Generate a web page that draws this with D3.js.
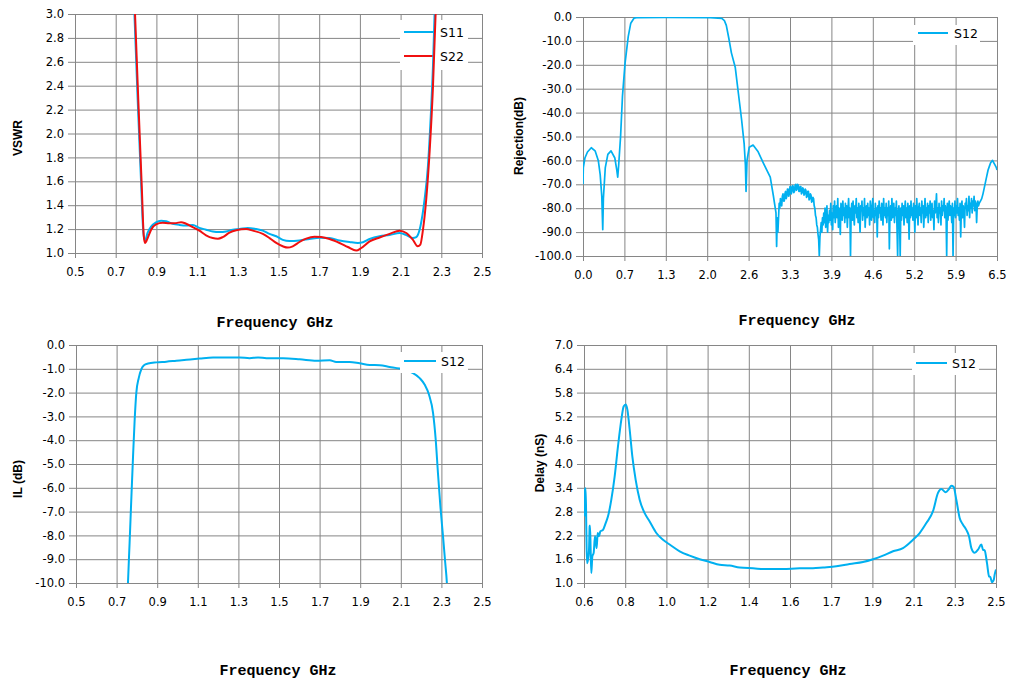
<!DOCTYPE html>
<html>
<head>
<meta charset="utf-8">
<script src="https://cdnjs.cloudflare.com/ajax/libs/d3/7.8.5/d3.min.js"></script>
<style>
  body { margin: 0; background: #fff; }
  svg { display: block; }
  .tick text { font-family: 'DejaVu Sans', sans-serif; font-size: 11.5px; fill: #000; }
  .tick line { stroke: #868686; stroke-width: 1px; }
  .ytitle { font-family: 'Liberation Sans', Arial, sans-serif; font-weight: bold; font-size: 12px; }
  .xtitle { font-family: 'Liberation Mono', monospace; font-weight: bold; font-size: 15px; }
  .legtext { font-family: 'DejaVu Sans', sans-serif; font-size: 12.5px; }
</style>
</head>
<body>
<svg id="chart" width="1020" height="697"></svg>
<script>

const BLUE = '#00b0f0';
const RED = '#f01010';

// ---- VSWR panel ----
const vswrXTicks = [0.5, 0.7, 0.9, 1.1, 1.3, 1.5, 1.7, 1.9, 2.1, 2.3, 2.5];
const vswrXLabels = ['0.5', '0.7', '0.9', '1.1', '1.3', '1.5', '1.7', '1.9', '2.1', '2.3', '2.5'];
const vswrYTicks = [1.0, 1.2, 1.4, 1.6, 1.8, 2.0, 2.2, 2.4, 2.6, 2.8, 3.0];
const vswrYLabels = ['1.0', '1.2', '1.4', '1.6', '1.8', '2.0', '2.2', '2.4', '2.6', '2.8', '3.0'];
const vswrS11 = [
  [0.780, 3.6], [0.792, 3.0], [0.808, 2.28], [0.825, 1.58], [0.836, 1.17], [0.844, 1.105],
  [0.857, 1.17], [0.874, 1.22], [0.898, 1.256], [0.923, 1.27], [0.948, 1.265], [0.980, 1.245],
  [1.013, 1.235], [1.046, 1.23], [1.079, 1.235], [1.111, 1.21], [1.144, 1.195], [1.177, 1.18],
  [1.210, 1.175], [1.243, 1.18], [1.275, 1.195], [1.308, 1.2], [1.349, 1.21], [1.390, 1.2],
  [1.423, 1.187], [1.456, 1.16], [1.489, 1.14], [1.521, 1.11], [1.554, 1.1], [1.603, 1.105],
  [1.652, 1.117], [1.702, 1.128], [1.751, 1.125], [1.800, 1.105], [1.849, 1.092], [1.890, 1.084],
  [1.915, 1.09], [1.948, 1.117], [1.997, 1.14], [2.046, 1.15], [2.095, 1.167], [2.128, 1.15],
  [2.160, 1.125], [2.177, 1.133], [2.197, 1.22], [2.218, 1.45], [2.234, 1.72], [2.248, 2.14],
  [2.259, 2.56], [2.267, 3.0], [2.275, 3.5]
];
const vswrS22 = [
  [0.783, 3.6], [0.795, 3.0], [0.811, 2.28], [0.828, 1.56], [0.838, 1.14], [0.844, 1.084],
  [0.857, 1.125], [0.874, 1.195], [0.898, 1.24], [0.931, 1.253], [0.964, 1.248], [0.997, 1.25],
  [1.021, 1.258], [1.046, 1.245], [1.079, 1.217], [1.111, 1.187], [1.144, 1.148], [1.177, 1.125],
  [1.202, 1.12], [1.226, 1.133], [1.259, 1.17], [1.292, 1.19], [1.341, 1.2], [1.374, 1.187],
  [1.423, 1.16], [1.456, 1.125], [1.489, 1.084], [1.521, 1.056], [1.546, 1.045], [1.570, 1.056],
  [1.603, 1.092], [1.636, 1.12], [1.677, 1.136], [1.710, 1.133], [1.751, 1.117], [1.800, 1.084],
  [1.841, 1.05], [1.882, 1.02], [1.907, 1.042], [1.948, 1.097], [1.997, 1.13], [2.046, 1.16],
  [2.095, 1.187], [2.128, 1.167], [2.160, 1.111], [2.184, 1.056], [2.197, 1.07], [2.210, 1.195],
  [2.226, 1.45], [2.243, 1.86], [2.259, 2.39], [2.272, 3.0], [2.280, 3.5]
];

// ---- Rejection panel ----
const rejXTicks = [0, 0.65, 1.3, 1.95, 2.6, 3.25, 3.9, 4.55, 5.2, 5.85, 6.5];
const rejXLabels = ['0.0', '0.7', '1.3', '2.0', '2.6', '3.3', '3.9', '4.6', '5.2', '5.9', '6.5'];
const rejYTicks = [-100, -90, -80, -70, -60, -50, -40, -30, -20, -10, 0];
const rejYLabels = ['-100.0', '-90.0', '-80.0', '-70.0', '-60.0', '-50.0', '-40.0', '-30.0', '-20.0', '-10.0', '0.0'];
// passband and skirts
const rejMain = [
  [0.000, -70], [0.005, -63], [0.03, -59], [0.07, -56.5], [0.13, -54.7], [0.19, -56], [0.24, -60],
  [0.27, -66], [0.295, -75], [0.31, -89], [0.32, -76], [0.35, -63], [0.39, -57.5], [0.44, -56],
  [0.50, -59], [0.53, -64], [0.545, -67], [0.56, -62], [0.59, -50], [0.62, -33], [0.66, -19.4],
  [0.71, -8.2], [0.75, -2.6], [0.80, -0.5], [0.84, -0.3], [1.30, -0.2], [2.00, -0.3], [2.18, -0.6],
  [2.22, -1.5], [2.25, -3.5], [2.29, -9], [2.33, -15], [2.39, -21], [2.44, -32], [2.49, -43],
  [2.53, -53], [2.55, -62], [2.56, -73], [2.575, -60], [2.61, -54.5], [2.67, -53.6], [2.75, -56.4],
  [2.83, -61], [2.94, -67], [2.99, -75], [3.03, -82], [3.04, -96], [3.05, -84], [3.06, -90],
  [3.08, -78], [3.09, -80], [3.10, -76], [3.11, -78], [3.12, -79], [3.13, -75], [3.14, -74],
  [3.15, -77], [3.16, -77], [3.17, -74], [3.18, -73], [3.19, -76], [3.20, -75], [3.21, -72],
  [3.22, -72], [3.23, -75], [3.24, -74], [3.25, -71], [3.26, -71], [3.27, -74], [3.28, -73],
  [3.29, -70.5], [3.30, -71], [3.31, -73.5], [3.32, -73], [3.33, -70.5], [3.34, -70], [3.35, -72.5],
  [3.36, -72], [3.37, -70], [3.38, -70.5], [3.39, -73], [3.40, -73], [3.41, -71], [3.42, -71],
  [3.43, -74], [3.44, -73.5], [3.45, -71.5], [3.46, -72], [3.47, -74.5], [3.48, -74], [3.49, -72],
  [3.50, -72.5], [3.51, -75.5], [3.52, -75], [3.53, -73], [3.54, -73], [3.55, -76.5], [3.56, -76],
  [3.57, -74], [3.58, -74.5], [3.59, -77.5], [3.60, -77], [3.61, -75.5], [3.62, -76], [3.63, -79],
  [3.64, -80], [3.65, -83], [3.66, -84], [3.67, -87], [3.68, -88], [3.69, -91], [3.70, -93],
  [3.71, -100], [3.72, -92], [3.73, -89], [3.74, -86], [3.75, -90], [3.76, -84], [3.77, -87]
];
// stopband noise floor
const rejNoise = [
  [3.78, -82], [3.79, -86], [3.80, -80], [3.81, -88], [3.82, -84], [3.83, -79], [3.84, -90], [3.85, -83], [3.86, -86], [3.87, -81],
  [3.88, -85], [3.89, -78], [3.90, -87], [3.91, -82], [3.92, -89], [3.93, -79], [3.94, -84], [3.95, -77], [3.96, -86], [3.97, -81],
  [3.98, -79], [3.99, -84], [4.00, -76], [4.01, -88], [4.02, -80], [4.03, -83], [4.04, -91], [4.05, -78], [4.06, -82], [4.07, -85],
  [4.08, -77], [4.09, -83], [4.10, -80], [4.11, -86], [4.12, -78], [4.13, -84], [4.14, -79], [4.15, -88], [4.16, -81], [4.17, -76],
  [4.18, -84], [4.19, -80], [4.20, -100], [4.21, -82], [4.22, -78], [4.23, -85], [4.24, -77], [4.25, -83], [4.26, -87], [4.27, -79],
  [4.28, -82], [4.29, -76], [4.30, -84], [4.31, -80], [4.32, -86], [4.33, -78], [4.34, -83], [4.35, -90], [4.36, -79], [4.37, -81],
  [4.38, -77], [4.39, -85], [4.40, -80], [4.41, -83], [4.42, -76], [4.43, -88], [4.44, -82], [4.45, -79], [4.46, -84], [4.47, -78],
  [4.48, -83], [4.49, -80], [4.50, -87], [4.51, -77], [4.52, -82], [4.53, -85], [4.54, -79], [4.55, -76], [4.56, -84], [4.57, -81],
  [4.58, -86], [4.59, -78], [4.60, -83], [4.61, -80], [4.62, -92], [4.63, -79], [4.64, -84], [4.65, -77], [4.66, -82], [4.67, -80],
  [4.68, -85], [4.69, -78], [4.70, -81], [4.71, -87], [4.72, -76], [4.73, -83], [4.74, -80], [4.75, -84], [4.76, -78], [4.77, -86],
  [4.78, -80], [4.79, -83], [4.80, -77], [4.81, -97], [4.82, -82], [4.83, -79], [4.84, -85], [4.85, -76], [4.86, -84], [4.87, -81],
  [4.88, -78], [4.89, -86], [4.90, -80], [4.91, -83], [4.92, -77], [4.93, -88], [4.94, -100], [4.95, -81], [4.96, -79], [4.97, -84],
  [4.98, -100], [4.99, -80], [5.00, -85], [5.01, -78], [5.02, -83], [5.03, -79], [5.04, -87], [5.05, -81], [5.06, -77], [5.07, -84],
  [5.08, -80], [5.09, -86], [5.10, -78], [5.11, -82], [5.12, -93], [5.13, -79], [5.14, -84], [5.15, -77], [5.16, -83], [5.17, -80],
  [5.18, -85], [5.19, -78], [5.20, -81], [5.21, -90], [5.22, -79], [5.23, -84], [5.24, -76], [5.25, -82], [5.26, -87], [5.27, -80],
  [5.28, -78], [5.29, -83], [5.30, -80], [5.31, -86], [5.32, -77], [5.33, -82], [5.34, -79], [5.35, -88], [5.36, -81], [5.37, -76],
  [5.38, -84], [5.39, -80], [5.40, -83], [5.41, -78], [5.42, -86], [5.43, -79], [5.44, -82], [5.45, -77], [5.46, -85], [5.47, -80],
  [5.48, -78], [5.49, -84], [5.50, -81], [5.51, -89], [5.52, -77], [5.53, -82], [5.54, -79], [5.55, -74], [5.56, -84], [5.57, -80],
  [5.58, -86], [5.59, -78], [5.60, -82], [5.61, -80], [5.62, -87], [5.63, -77], [5.64, -83], [5.65, -79], [5.66, -81], [5.67, -76],
  [5.68, -84], [5.69, -79], [5.70, -82], [5.71, -100], [5.72, -78], [5.73, -85], [5.74, -80], [5.75, -77], [5.76, -83], [5.77, -79],
  [5.78, -81], [5.79, -86], [5.80, -78], [5.81, -100], [5.82, -80], [5.83, -83], [5.84, -77], [5.85, -84], [5.86, -79], [5.87, -82],
  [5.88, -76], [5.89, -83], [5.90, -80], [5.91, -85], [5.92, -78], [5.93, -92], [5.94, -81], [5.95, -77], [5.96, -84], [5.97, -79],
  [5.98, -82], [5.99, -88], [6.00, -78], [6.01, -80], [6.02, -76], [6.03, -83], [6.04, -79], [6.05, -81], [6.06, -75], [6.07, -84],
  [6.08, -78], [6.09, -80], [6.10, -76], [6.11, -82], [6.12, -77], [6.13, -79], [6.14, -75], [6.15, -81], [6.16, -77], [6.17, -78],
  [6.18, -86], [6.19, -79], [6.20, -77], [6.21, -79]
];
// upper rise to the band edge
const rejTail = [
  [6.22, -78], [6.24, -77], [6.26, -76], [6.28, -74], [6.30, -71.5], [6.32, -69], [6.34, -66.5],
  [6.36, -64], [6.38, -62.5], [6.40, -61], [6.43, -60], [6.45, -61], [6.47, -62], [6.49, -63], [6.50, -64]
];
const rejS12 = rejMain.concat(rejNoise, rejTail);

// ---- Insertion loss panel ----
const ilXTicks = vswrXTicks;
const ilXLabels = vswrXLabels;
const ilYTicks = [-10, -9, -8, -7, -6, -5, -4, -3, -2, -1, 0];
const ilYLabels = ['-10.0', '-9.0', '-8.0', '-7.0', '-6.0', '-5.0', '-4.0', '-3.0', '-2.0', '-1.0', '0.0'];
const ilS12 = [
  [0.754, -10.5], [0.756, -10], [0.764, -8.32], [0.773, -6.36], [0.781, -4.68], [0.789, -3.14],
  [0.797, -2.02], [0.809, -1.39], [0.822, -1.01], [0.835, -0.85], [0.855, -0.78], [0.896, -0.73],
  [0.945, -0.70], [0.994, -0.66], [1.044, -0.62], [1.109, -0.57], [1.175, -0.53], [1.240, -0.53],
  [1.306, -0.52], [1.355, -0.56], [1.397, -0.52], [1.438, -0.56], [1.520, -0.56], [1.602, -0.6],
  [1.684, -0.66], [1.750, -0.64], [1.782, -0.71], [1.848, -0.71], [1.897, -0.77], [1.947, -0.84],
  [1.996, -0.85], [2.045, -0.92], [2.094, -0.99], [2.130, -1.07], [2.160, -1.18], [2.193, -1.39],
  [2.218, -1.67], [2.239, -2.09], [2.259, -2.86], [2.272, -3.98], [2.283, -5.38], [2.295, -6.78],
  [2.308, -8.04], [2.319, -9.16], [2.327, -10], [2.330, -10.5]
];

// ---- Group delay panel ----
const delayXTicks = [0.6, 0.79, 0.98, 1.17, 1.36, 1.55, 1.74, 1.93, 2.12, 2.31, 2.5];
const delayXLabels = ['0.6', '0.8', '1.0', '1.2', '1.4', '1.6', '1.7', '1.9', '2.1', '2.3', '2.5'];
const delayYTicks = [1.0, 1.6, 2.2, 2.8, 3.4, 4.0, 4.6, 5.2, 5.8, 6.4, 7.0];
const delayYLabels = ['1.0', '1.6', '2.2', '2.8', '3.4', '4.0', '4.6', '5.2', '5.8', '6.4', '7.0'];
const delayS12 = [
  [0.6015, 2.68], [0.6046, 3.35], [0.6077, 3.39], [0.6108, 2.34], [0.6138, 1.5], [0.6184, 1.59],
  [0.6231, 1.84], [0.6261, 2.43], [0.6277, 2.45], [0.6307, 1.84], [0.6338, 1.25], [0.6384, 1.67],
  [0.6446, 1.76], [0.6507, 2.18], [0.6553, 2.01], [0.6584, 1.88], [0.6630, 2.26], [0.6692, 2.18],
  [0.6753, 2.3], [0.6876, 2.34], [0.700, 2.51], [0.7107, 2.68], [0.726, 3.1], [0.7414, 3.69],
  [0.7568, 4.45], [0.7722, 5.12], [0.7829, 5.45], [0.7922, 5.5], [0.800, 5.37], [0.8106, 4.87],
  [0.8229, 4.19], [0.8383, 3.6], [0.8567, 3.1], [0.8798, 2.76], [0.9028, 2.55], [0.9336, 2.26],
  [0.9643, 2.09], [0.995, 1.97], [1.0412, 1.8], [1.0873, 1.69], [1.1334, 1.6], [1.1795, 1.53],
  [1.2256, 1.46], [1.2718, 1.44], [1.3179, 1.39], [1.3794, 1.37], [1.4409, 1.35], [1.5177, 1.35],
  [1.5946, 1.37], [1.656, 1.37], [1.7022, 1.39], [1.7637, 1.42], [1.8251, 1.48], [1.8866, 1.53],
  [1.9328, 1.6], [1.9789, 1.69], [2.025, 1.8], [2.0711, 1.88], [2.1172, 2.09], [2.148, 2.26],
  [2.1787, 2.51], [2.2095, 2.81], [2.2325, 3.27], [2.2479, 3.37], [2.2679, 3.29], [2.2833, 3.37],
  [2.294, 3.45], [2.3048, 3.42], [2.317, 3.1], [2.3324, 2.64], [2.3478, 2.47], [2.3632, 2.34],
  [2.3755, 2.18], [2.3863, 1.88], [2.4016, 1.76], [2.417, 1.84], [2.4324, 1.97], [2.44, 1.84],
  [2.4478, 1.82], [2.4585, 1.5], [2.4677, 1.17], [2.4738, 1.15], [2.4815, 1.02], [2.4892, 1.07],
  [2.4938, 1.21], [2.5, 1.34]
];

const svg = d3.select('#chart');

function drawPanel(p) {
  const w = p.x1 - p.x0, h = p.y1 - p.y0;
  const g = svg.append('g');

  const xScale = d3.scaleLinear().domain(p.xDomain).range([p.x0, p.x1]);
  const yScale = d3.scaleLinear().domain(p.yDomain).range([p.y1, p.y0]);

  // grid + ticks (lines run through the plot, short stubs outside)
  const xAxis = g.append('g')
    .attr('transform', `translate(0,${p.y1 + 5})`)
    .call(d3.axisBottom(xScale).tickValues(p.xTicks)
      .tickFormat((d, i) => p.xLabels[i]).tickSize(-(h + 5)).tickPadding(10));
  const yAxis = g.append('g')
    .attr('transform', `translate(${p.x0 - 7},0)`)
    .call(d3.axisLeft(yScale).tickValues(p.yTicks)
      .tickFormat((d, i) => p.yLabels[i]).tickSize(-(w + 7)).tickPadding(4));
  [xAxis, yAxis].forEach(a => {
    a.attr('font-size', null).attr('font-family', null)
    a.select('.domain').remove()
  })

  const clipId = 'clip_' + p.id;
  svg.append('clipPath').attr('id', clipId)
    .append('rect').attr('x', p.x0).attr('y', p.y0).attr('width', w).attr('height', h);

  const drawLegend = () => {
    const L = p.legend;
    g.append('rect').attr('x', L.x0).attr('y', L.y0)
      .attr('width', L.x1 - L.x0).attr('height', L.y1 - L.y0).attr('fill', '#fff');
    p.series.forEach((s, i) => {
      const ly = L.lineY[i];
      g.append('line').attr('x1', L.lx0).attr('x2', L.lx1).attr('y1', ly).attr('y2', ly)
        .attr('stroke', s.color).attr('stroke-width', 2);
      g.append('text').attr('class', 'legtext').attr('x', L.tx).attr('y', ly + 5).text(s.name);
    })
  }

  if (!p.legendOnTop) drawLegend();

  const line = d3.line()
    .x(d => xScale(d[0]))
    .y(d => yScale(d[1]))
    .curve(p.curve || d3.curveLinear);

  g.append('g').attr('clip-path', `url(#${clipId})`)
    .selectAll('path')
    .data(p.series)
    .join('path')
      .attr('d', s => line(s.data))
      .attr('fill', 'none')
      .attr('stroke', s => s.color)
      .attr('stroke-width', p.strokeWidth || 2)
      .attr('stroke-linejoin', 'round');

  if (p.legendOnTop) drawLegend();

  // titles
  g.append('text').attr('class', 'ytitle')
    .attr('transform', `translate(${p.yTitleX},${p.yTitleY}) rotate(-90)`)
    .attr('text-anchor', 'middle').attr('dominant-baseline', 'central')
    .text(p.yTitle);
  g.append('text').attr('class', 'xtitle')
    .attr('x', p.xTitleX).attr('y', p.xTitleY)
    .attr('text-anchor', 'middle')
    .text('Frequency GHz');
}

drawPanel({
  id: 'vswr', x0: 75, x1: 482, y0: 14, y1: 253,
  xDomain: [0.5, 2.5], yDomain: [1, 3],
  xTicks: vswrXTicks, xLabels: vswrXLabels, yTicks: vswrYTicks, yLabels: vswrYLabels,
  series: [{name: 'S11', color: BLUE, data: vswrS11}, {name: 'S22', color: RED, data: vswrS22}],
  curve: d3.curveMonotoneX,
  legend: {x0: 400, x1: 468, y0: 20, y1: 70, lx0: 404, lx1: 435, tx: 440, lineY: [32, 56]},
  legendOnTop: false,
  yTitle: 'VSWR', yTitleX: 18, yTitleY: 138,
  xTitleX: 275, xTitleY: 327
});

drawPanel({
  id: 'rej', x0: 583, x1: 997, y0: 17, y1: 256,
  xDomain: [0, 6.5], yDomain: [-100, 0],
  xTicks: rejXTicks, xLabels: rejXLabels, yTicks: rejYTicks, yLabels: rejYLabels,
  series: [{name: 'S12', color: BLUE, data: rejS12}],
  strokeWidth: 1.7,
  legend: {x0: 913, x1: 980, y0: 25, y1: 45, lx0: 918, lx1: 948, tx: 954, lineY: [33]},
  legendOnTop: true,
  yTitle: 'Rejection(dB)', yTitleX: 519, yTitleY: 136,
  xTitleX: 797, xTitleY: 325
});

drawPanel({
  id: 'il', x0: 76, x1: 482, y0: 345, y1: 583,
  xDomain: [0.5, 2.5], yDomain: [-10, 0],
  xTicks: ilXTicks, xLabels: ilXLabels, yTicks: ilYTicks, yLabels: ilYLabels,
  series: [{name: 'S12', color: BLUE, data: ilS12}],
  curve: d3.curveMonotoneX,
  legend: {x0: 400, x1: 468, y0: 352, y1: 373, lx0: 404, lx1: 436, tx: 441, lineY: [361]},
  legendOnTop: true,
  yTitle: 'IL (dB)', yTitleX: 18, yTitleY: 479,
  xTitleX: 278, xTitleY: 675
});

drawPanel({
  id: 'delay', x0: 584, x1: 996, y0: 345, y1: 583,
  xDomain: [0.6, 2.5], yDomain: [1, 7],
  xTicks: delayXTicks, xLabels: delayXLabels, yTicks: delayYTicks, yLabels: delayYLabels,
  series: [{name: 'S12', color: BLUE, data: delayS12}],
  curve: d3.curveMonotoneX,
  legend: {x0: 912, x1: 979, y0: 353, y1: 375, lx0: 916, lx1: 947, tx: 952, lineY: [363]},
  legendOnTop: true,
  yTitle: 'Delay (nS)', yTitleX: 540, yTitleY: 463,
  xTitleX: 788, xTitleY: 675
});

</script>
</body>
</html>
